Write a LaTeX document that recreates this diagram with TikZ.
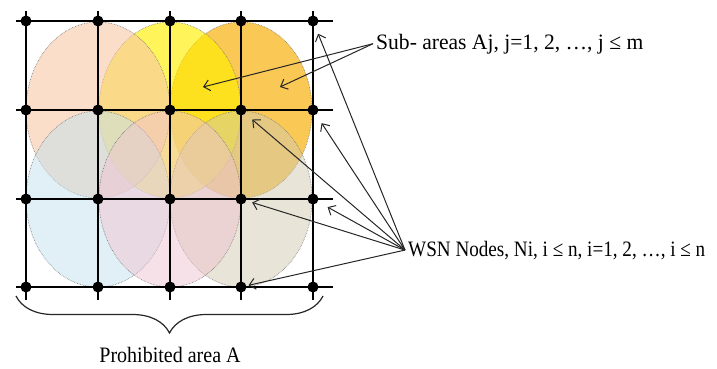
\documentclass[tikz,border=0pt]{standalone}
\usepackage{fontspec}
\setmainfont{Liberation Serif}
\usetikzlibrary{arrows.meta,decorations.pathreplacing}
\definecolor{zoneblue}{RGB}{195,225,237}
\definecolor{zonebeige}{RGB}{209,201,175}
\definecolor{zonepink}{RGB}{240,196,209}
\definecolor{zonepeach}{RGB}{247,200,167}
\definecolor{zoneorange}{RGB}{248,176,12}
\definecolor{zoneyellow}{RGB}{255,240,1}
\newcommand{\squeezed}[2][0.91]{\scalebox{#1}[1]{#2}}
\begin{document}
\begin{tikzpicture}[x=1pt,y=-1pt,
    gridline/.style={line width=1.6pt},
    sensor/.style={circle,fill,inner sep=0pt,minimum size=11pt},
    zone/.style={draw=black!55,densely dotted,line width=0.6pt,fill opacity=0.5},
    pointer/.style={draw=black!85,line width=1pt,-{Straight Barb[length=6pt,width=11pt]}},
    lbl/.style={font=\fontsize{22}{26}\selectfont,inner ysep=0pt,inner xsep=3pt}]
\useasboundingbox (0,0) rectangle (717,368);
\path[zone,fill=zoneorange,fill opacity=0.7] (241,110) ellipse [x radius=71pt,y radius=88pt];
\path[zone,fill=zoneyellow,fill opacity=0.65] (170,110) ellipse [x radius=71pt,y radius=88pt];
\path[zone,fill=zonepeach,fill opacity=0.6] (98,110) ellipse [x radius=72pt,y radius=88pt];
\path[zone,fill=zoneblue] (98,199) ellipse [x radius=72pt,y radius=88pt];
\path[zone,fill=zonebeige] (241,199) ellipse [x radius=71pt,y radius=88pt];
\path[zone,fill=zonepink] (170,199) ellipse [x radius=71pt,y radius=88pt];
\foreach \y in {21,110,199,287}
  \draw[gridline] (16,\y) -- (333,\y);
\foreach \x in {26,98,170,241,313}
  \draw[gridline] (\x,11) -- (\x,300);
\foreach \i/\x in {1/26,2/98,3/170,4/241,5/313}
  \foreach \j/\y in {1/21,2/110,3/199,4/287}
    \node[sensor] (d-\i-\j) at (\x,\y) {};
\coordinate (aj-1) at (203,87);
\coordinate (aj-2) at (280,87);
\node[lbl,anchor=base west] (sub) at (373,49) {\squeezed[0.98]{Sub- areas Aj, j=1, 2, …, j ≤ m}};
\node[lbl,anchor=base west] (wsn) at (405,256) {\squeezed[0.87]{WSN Nodes, Ni, i ≤ n, i=1, 2, …,  i ≤ n}};
\draw[pointer] (sub.west) -- (aj-1);
\draw[pointer] (sub.west) -- (aj-2);
\draw[pointer,shorten >=8pt] (wsn.west) -- (d-5-1);
\draw[pointer,shorten >=10pt] (wsn.west) -- (d-5-2);
\draw[pointer,shorten >=9pt] (wsn.west) -- (d-4-2);
\draw[pointer,shorten >=11pt] (wsn.west) -- (d-5-3);
\draw[pointer,shorten >=6pt] (wsn.west) -- (d-4-3);
\draw[pointer,shorten >=2pt] (wsn.west) -- (d-4-4);
\coordinate (brace-l) at (16,296);
\coordinate (brace-r) at (323,296);
\draw[black!85,line width=1.2pt,decorate,decoration={brace,mirror,amplitude=37pt}] (brace-l) -- (brace-r);
\node[lbl,anchor=base] (area) at (170,362) {\squeezed{Prohibited area A}};
\end{tikzpicture}
\end{document}
